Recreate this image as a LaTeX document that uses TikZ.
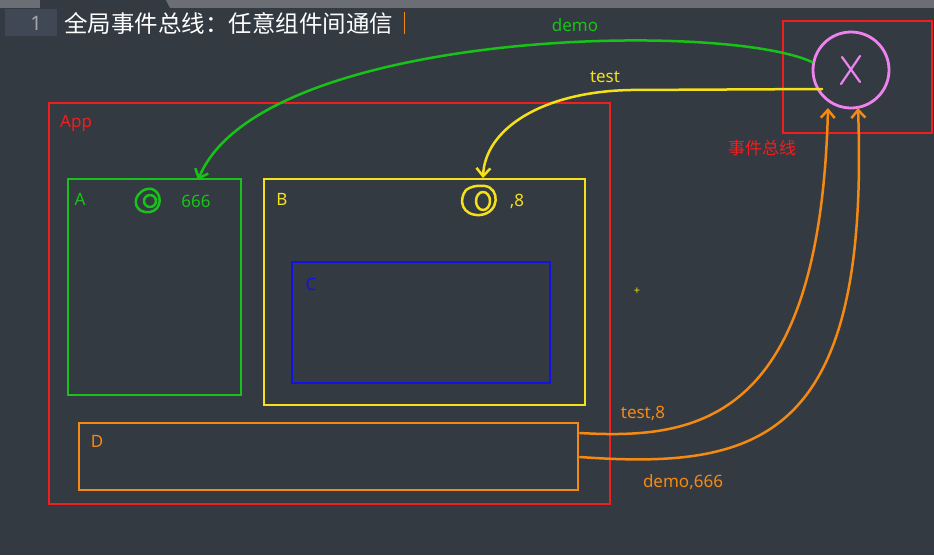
\documentclass[tikz,border=0pt]{standalone}
\usepackage{fontspec}
\usetikzlibrary{shapes.geometric,arrows.meta}
\setmainfont{Noto Sans}
\newfontfamily\cjk{Noto Sans CJK SC}
\begin{document}
\begin{tikzpicture}[x=1pt,y=-1pt,
  lbl/.style={font=\fontsize{17}{19}\selectfont,inner sep=0pt},
  box/.style={line width=2.8pt},
  hand/.style={line width=2.5pt,line cap=round,line join=round},
  tip/.style={-{Straight Barb[length=8pt,width=14pt]}}]
\definecolor{bg}{HTML}{343A42}
\definecolor{bar}{HTML}{6B6F75}
\definecolor{gut}{HTML}{3F4854}
\definecolor{rd}{HTML}{F21D1D}
\definecolor{gr}{HTML}{18C218}
\definecolor{yl}{HTML}{F5E11A}
\definecolor{bl}{HTML}{1212E6}
\definecolor{og}{HTML}{F58A12}
\definecolor{vi}{HTML}{EE82EE}
\fill[bg] (0,0) rectangle (934,555);
\useasboundingbox (0,0) rectangle (934,555);
\fill[bar] (0,0) rectangle (934,8);
\fill[bg] (40,0) -- (44,-1) -- (165,-1) -- (170,8) -- (40,8) -- cycle;
\fill[gut] (5,9) rectangle (57,36);
\node[lbl,text=gray!70] (ln) at (36,23) {\fontsize{20}{22}\selectfont 1};
\node[lbl,anchor=west,text=white!90] (title) at (64,23) {\cjk\fontsize{23.5}{25}\selectfont 全局事件总线：任意组件间通信};
\draw[og,line width=1pt] (404,12) -- (404,34);
% bus
\node[draw=rd,box,minimum width=149,minimum height=112,inner sep=0] (busbox) at (857.5,77) {};
\node[draw=vi,box,circle,minimum size=76,inner sep=0] (bus) at (851,70) {};
\draw[vi,line width=2.2pt,line cap=round] (842,57) -- (860,82) (860,56) -- (841,84);
\node[lbl,text=rd] (buslbl) at (762,148) {\cjk 事件总线};
% App
\node[draw=rd,box,minimum width=561,minimum height=401,inner sep=0] (app) at (329.5,303.5) {};
\node[lbl,text=rd,anchor=west] (applbl) at (60,123) {App};
% A
\node[draw=gr,box,minimum width=173,minimum height=216,inner sep=0] (A) at (154.5,287) {};
\node[lbl,text=gr] (Al) at (80,199) {A};
\node[lbl,text=gr] (A666) at (196,201) {666};
\node[draw=gr,hand,circle,minimum size=12,inner sep=0] (Ao) at (150,201) {};
\draw[gr,hand] (141,192) .. controls (131,200) and (136,214) .. (150,212) .. controls (162,210) and (163,193) .. (152,189) .. controls (148,188) and (143,190) .. (141,192);
% B
\node[draw=yl,box,minimum width=321,minimum height=226,inner sep=0] (B) at (424.5,292) {};
\node[lbl,text=yl] (Bl) at (282,199) {B};
\node[lbl,text=yl] (B8) at (517,201) {,8};
\node[draw=yl,hand,ellipse,minimum width=14,minimum height=18,inner sep=0] (Bo) at (483,201) {};
\draw[yl,hand] (466,190) .. controls (458,200) and (462,216) .. (480,215) .. controls (500,213) and (500,188) .. (485,186) .. controls (476,185) and (470,187) .. (466,190);
% C
\node[draw=bl,box,minimum width=258,minimum height=121,inner sep=0] (C) at (421,322.5) {};
\node[lbl,text=bl] (Cl) at (311,284) {C};
% D
\node[draw=og,box,minimum width=499,minimum height=67,inner sep=0] (D) at (328.5,456.5) {};
\node[lbl,text=og] (Dl) at (97,441) {D};
\node[lbl,text=yl,font=\fontsize{11}{11}\selectfont] (plus) at (637,291) {+};
% connectors
\coordinate (g0) at (812,62);
\coordinate (ga) at (198,180);
\draw[gr,hand,tip] (g0) .. controls (720,20) and (260,30) .. (ga);
\node[lbl,text=gr] (demo) at (575,25) {demo};
\coordinate (y0) at (822,89);
\coordinate (y1) at (630,90);
\coordinate (yb) at (483,178);
\draw[yl,hand,tip] (y0) -- (y1) .. controls (540,92) and (485,130) .. (yb);
\node[lbl,text=yl] (test) at (605,77) {test};
\coordinate (o1) at (580,433);
\coordinate (o1e) at (828,108);
\draw[og,hand,tip] (o1) .. controls (700,440) and (820,420) .. (o1e);
\coordinate (o2) at (580,457);
\coordinate (o2e) at (858,108);
\draw[og,hand,tip] (o2) .. controls (760,470) and (870,440) .. (o2e);
\node[lbl,text=og] (t8) at (643,413) {test,8};
\node[lbl,text=og] (d666) at (683,482) {demo,666};
\end{tikzpicture}
\end{document}
